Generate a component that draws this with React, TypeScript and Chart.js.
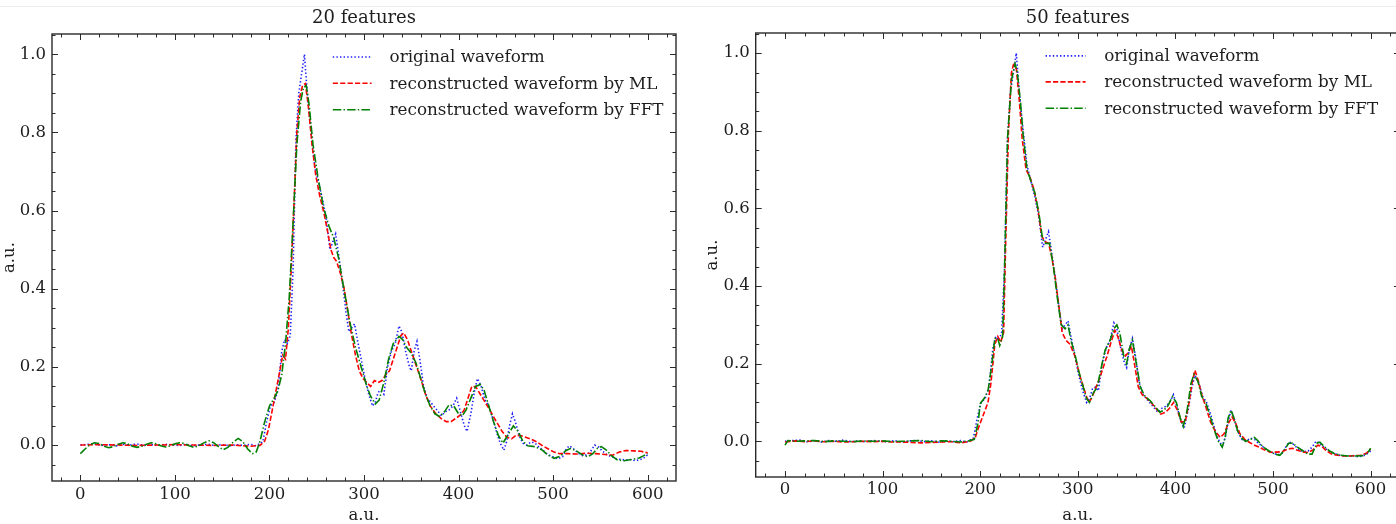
import React, { useEffect, useRef } from "react";
import { Chart, registerables } from "chart.js";

Chart.register(...registerables);

// ---------- data ----------
const xTickValues = [0, 100, 200, 300, 400, 500, 600];
const yTickValues = [0, 0.2, 0.4, 0.6, 0.8, 1.0];
const panelTitles = ["20 features", "50 features"];
const seriesLabels = [
  "original waveform",
  "reconstructed waveform by ML",
  "reconstructed waveform by FFT",
];
const axisLabel = "a.u.";

const originalWaveform: [number, number][] = [
  [0, 0.0], [8, 0.002], [15, 0.003], [22, -0.001], [30, 0.001], [38, -0.002], [45, 0.002], [52, 0.0],
  [60, 0.003], [68, -0.001], [75, 0.001], [82, -0.001], [90, 0.002], [98, 0.0], [105, -0.001], [112, 0.002],
  [120, -0.002], [128, 0.001], [135, 0.002], [142, -0.001], [150, 0.001], [158, -0.002], [165, 0.001],
  [172, -0.001], [180, 0.002], [186, -0.002], [190, 0.004], [193, 0.008], [197, 0.06], [201, 0.1],
  [205, 0.11], [209, 0.14], [213, 0.24], [216, 0.27], [219, 0.26], [222, 0.28], [225, 0.45], [228, 0.78],
  [231, 0.9], [234, 0.95], [237, 1.0], [240, 0.9], [244, 0.8], [248, 0.71], [252, 0.67], [256, 0.63],
  [260, 0.58], [264, 0.5], [267, 0.52], [270, 0.54], [273, 0.49], [277, 0.42], [281, 0.34], [284, 0.29],
  [287, 0.3], [290, 0.31], [293, 0.27], [297, 0.22], [301, 0.17], [305, 0.13], [309, 0.1], [312, 0.11],
  [315, 0.135], [318, 0.14], [321, 0.13], [325, 0.2], [329, 0.24], [333, 0.26], [337, 0.305], [340, 0.29],
  [344, 0.24], [348, 0.2], [350, 0.19], [353, 0.24], [356, 0.265], [359, 0.22], [363, 0.15], [367, 0.12],
  [372, 0.105], [377, 0.09], [382, 0.075], [386, 0.085], [390, 0.09], [394, 0.1], [398, 0.12], [402, 0.085],
  [406, 0.05], [409, 0.035], [413, 0.08], [417, 0.14], [420, 0.17], [424, 0.15], [428, 0.115], [432, 0.1],
  [436, 0.07], [440, 0.035], [444, 0.005], [448, -0.013], [451, 0.01], [454, 0.05], [457, 0.08], [460, 0.06],
  [464, 0.025], [468, 0.005], [472, 0.0], [477, 0.008], [481, 0.005], [485, -0.005], [490, -0.015],
  [495, -0.025], [500, -0.03], [505, -0.035], [510, -0.03], [514, -0.01], [517, -0.002], [521, -0.008],
  [526, -0.02], [531, -0.027], [536, -0.025], [540, -0.015], [544, 0.0], [548, -0.005], [552, -0.015],
  [557, -0.025], [562, -0.03], [567, -0.035], [572, -0.037], [577, -0.038], [582, -0.037], [587, -0.04],
  [591, -0.038], [595, -0.035], [600, -0.025],
];

const mlWaveform20: [number, number][] = [
  [0, 0.0], [20, 0.001], [40, 0.0], [60, -0.001], [80, 0.0], [100, 0.001], [120, 0.0], [140, -0.001],
  [160, 0.0], [180, -0.003], [190, -0.001], [195, 0.01], [199, 0.04], [203, 0.09], [207, 0.14], [211, 0.19],
  [214, 0.23], [217, 0.22], [220, 0.3], [223, 0.45], [226, 0.62], [229, 0.8], [232, 0.89], [235, 0.92],
  [238, 0.925], [241, 0.87], [245, 0.77], [249, 0.69], [253, 0.64], [258, 0.59], [262, 0.54], [265, 0.5],
  [268, 0.48], [271, 0.47], [275, 0.44], [279, 0.4], [283, 0.34], [287, 0.28], [291, 0.23], [295, 0.19],
  [299, 0.17], [303, 0.16], [307, 0.15], [311, 0.165], [315, 0.16], [319, 0.165], [323, 0.18], [327, 0.19],
  [331, 0.22], [335, 0.25], [339, 0.28], [342, 0.287], [346, 0.27], [350, 0.24], [355, 0.205], [360, 0.17],
  [365, 0.13], [370, 0.1], [376, 0.08], [382, 0.067], [387, 0.06], [392, 0.06], [397, 0.068], [402, 0.077],
  [406, 0.09], [410, 0.12], [414, 0.15], [418, 0.15], [423, 0.13], [428, 0.11], [433, 0.09], [440, 0.06],
  [446, 0.035], [451, 0.02], [456, 0.016], [461, 0.025], [466, 0.024], [471, 0.02], [477, 0.015],
  [483, 0.008], [489, -0.002], [495, -0.01], [501, -0.018], [507, -0.022], [515, -0.022], [525, -0.023],
  [535, -0.021], [545, -0.022], [555, -0.024], [563, -0.026], [570, -0.018], [577, -0.014], [585, -0.015],
  [593, -0.016], [600, -0.02],
];

const fftWaveform20: [number, number][] = [
  [0, -0.022], [5, -0.01], [10, 0.001], [15, 0.006], [20, 0.004], [25, -0.003], [30, -0.007], [35, -0.004],
  [40, 0.002], [45, 0.006], [50, 0.003], [55, -0.003], [60, -0.006], [65, -0.003], [70, 0.002], [75, 0.006],
  [80, 0.003], [85, -0.002], [90, -0.005], [95, -0.002], [100, 0.003], [105, 0.006], [110, 0.004],
  [115, -0.002], [120, -0.006], [125, -0.002], [130, 0.005], [136, 0.011], [141, 0.006], [146, -0.004],
  [151, -0.012], [156, -0.006], [161, 0.006], [167, 0.017], [172, 0.008], [177, -0.01], [182, -0.022],
  [186, -0.018], [190, 0.01], [195, 0.06], [200, 0.1], [205, 0.12], [209, 0.14], [213, 0.18], [217, 0.26],
  [221, 0.38], [225, 0.57], [229, 0.77], [233, 0.88], [236, 0.915], [239, 0.92], [242, 0.87], [246, 0.77],
  [251, 0.69], [257, 0.61], [263, 0.56], [268, 0.53], [273, 0.48], [278, 0.41], [285, 0.315], [291, 0.25],
  [297, 0.2], [303, 0.15], [307, 0.125], [312, 0.105], [316, 0.115], [321, 0.16], [326, 0.22], [331, 0.26],
  [337, 0.278], [341, 0.27], [345, 0.25], [350, 0.235], [355, 0.21], [360, 0.17], [365, 0.13], [370, 0.1],
  [375, 0.08], [380, 0.073], [385, 0.085], [390, 0.103], [395, 0.1], [400, 0.08], [404, 0.075], [408, 0.09],
  [413, 0.12], [418, 0.15], [423, 0.155], [427, 0.14], [432, 0.1], [437, 0.06], [442, 0.025], [447, 0.005],
  [452, 0.025], [458, 0.049], [463, 0.035], [468, 0.01], [473, -0.002], [481, -0.004], [488, -0.012],
  [494, -0.025], [501, -0.034], [508, -0.028], [513, -0.015], [518, -0.009], [524, -0.014], [531, -0.025],
  [537, -0.03], [542, -0.022], [547, -0.008], [551, -0.004], [556, -0.012], [562, -0.028], [568, -0.038],
  [575, -0.04], [583, -0.037], [591, -0.033], [596, -0.027], [600, -0.022],
];

const mlWaveform50: [number, number][] = [
  [0, -0.002], [10, 0.001], [20, -0.001], [30, 0.001], [40, -0.001], [50, 0.0], [60, -0.002], [70, -0.001],
  [80, 0.0], [90, -0.001], [100, 0.0], [110, -0.002], [120, -0.002], [130, -0.003], [140, -0.004],
  [150, -0.003], [160, -0.002], [170, -0.001], [180, -0.004], [190, 0.0], [195, 0.01], [198, 0.033],
  [202, 0.06], [205, 0.08], [208, 0.1], [211, 0.15], [215, 0.25], [218, 0.27], [221, 0.255], [224, 0.28],
  [226, 0.5], [229, 0.8], [232, 0.95], [234, 0.97], [237, 0.96], [240, 0.88], [243, 0.78], [247, 0.7],
  [251, 0.68], [255, 0.65], [259, 0.6], [263, 0.53], [266, 0.515], [270, 0.51], [273, 0.48], [277, 0.42],
  [281, 0.34], [284, 0.28], [288, 0.26], [292, 0.25], [297, 0.22], [302, 0.17], [307, 0.13], [311, 0.1],
  [314, 0.11], [318, 0.135], [322, 0.16], [326, 0.19], [330, 0.22], [334, 0.255], [338, 0.286], [341, 0.27],
  [345, 0.235], [349, 0.22], [352, 0.23], [355, 0.245], [358, 0.2], [362, 0.14], [366, 0.12], [371, 0.11],
  [375, 0.1], [380, 0.085], [385, 0.07], [390, 0.075], [394, 0.085], [398, 0.1], [402, 0.08], [406, 0.05],
  [410, 0.05], [414, 0.1], [417, 0.15], [420, 0.183], [423, 0.16], [427, 0.12], [431, 0.09], [436, 0.05],
  [441, 0.025], [446, 0.01], [450, 0.02], [454, 0.045], [458, 0.063], [462, 0.045], [466, 0.02],
  [471, 0.005], [476, -0.003], [481, -0.01], [486, -0.015], [491, -0.022], [497, -0.028], [503, -0.028],
  [509, -0.027], [515, -0.02], [520, -0.018], [525, -0.023], [531, -0.028], [536, -0.029], [541, -0.022],
  [546, -0.01], [550, -0.013], [555, -0.025], [560, -0.033], [566, -0.036], [572, -0.038], [578, -0.038],
  [584, -0.037], [590, -0.036], [596, -0.03], [600, -0.02],
];

const fftWaveform50: [number, number][] = [
  [0, -0.01], [3, 0.002], [10, 0.0], [20, 0.001], [30, 0.002], [40, -0.001], [50, 0.001], [60, 0.0],
  [70, -0.001], [80, 0.001], [90, 0.0], [100, 0.001], [110, -0.001], [120, 0.0], [130, 0.001], [140, 0.002],
  [150, -0.001], [160, 0.001], [170, 0.0], [180, -0.002], [188, 0.001], [194, 0.005], [198, 0.05],
  [200, 0.097], [204, 0.11], [208, 0.13], [212, 0.2], [215, 0.265], [218, 0.265], [220, 0.247], [223, 0.27],
  [225, 0.45], [228, 0.78], [232, 0.93], [235.7, 0.973], [238, 0.95], [241, 0.88], [244, 0.79], [248, 0.7],
  [252, 0.67], [256, 0.64], [260, 0.59], [264, 0.52], [267, 0.51], [271, 0.51], [275, 0.45], [279, 0.37],
  [283, 0.3], [287, 0.29], [290, 0.3], [293, 0.26], [297, 0.225], [301, 0.18], [305, 0.145], [309, 0.11],
  [312, 0.1], [316, 0.125], [320, 0.14], [324, 0.19], [328, 0.235], [333, 0.26], [337, 0.29], [340, 0.3],
  [343, 0.28], [347, 0.22], [350, 0.2], [353, 0.24], [356, 0.26], [360, 0.2], [364, 0.14], [369, 0.115],
  [374, 0.105], [379, 0.09], [384, 0.075], [388, 0.08], [392, 0.09], [397, 0.115], [401, 0.1], [405, 0.06],
  [408, 0.038], [412, 0.08], [416, 0.15], [419, 0.172], [423, 0.155], [427, 0.115], [431, 0.1], [435, 0.07],
  [439, 0.035], [444, 0.0], [448, -0.015], [451, 0.01], [454, 0.06], [457, 0.08], [460, 0.06], [464, 0.025],
  [468, 0.008], [472, 0.0], [477, 0.005], [481, 0.01], [485, 0.0], [490, -0.015], [496, -0.025],
  [502, -0.033], [507, -0.036], [511, -0.025], [516, -0.005], [520, -0.005], [525, -0.015], [531, -0.025],
  [536, -0.033], [540, -0.033], [545, -0.005], [548, -0.002], [553, -0.015], [558, -0.025], [563, -0.032],
  [570, -0.036], [577, -0.038], [585, -0.038], [592, -0.037], [597, -0.03], [600, -0.018],
];

// ---------- styling ----------
const FONT = "'DejaVu Serif', serif";
const TEXT = "#1e1e1e";
const FRAME = "#2a2a2a";
const X_MIN = -30, X_MAX = 630, Y_MIN = -0.092, Y_MAX = 1.052;
const X_MINOR = 20, Y_MINOR = 0.05;
const TICK_SIZE = 16.5;
const LEGEND_SIZE = 16.8;
const TITLE_SIZE = 18;

const lineStyles = [
  { color: "rgb(30,30,255)", dash: [1.4, 2.2], width: 1.6 },
  { color: "rgb(255,0,0)", dash: [5.2, 2.2], width: 1.6 },
  { color: "rgb(0,128,0)", dash: [8.5, 2.2, 1.4, 2.2], width: 1.6 },
];

const legendAnchor = { lineStart: 267, lineEnd: 308, textX: 327, rows: [0.993, 0.926, 0.858] };

const toPoints = (arr: [number, number][]) => arr.map(([x, y]) => ({ x, y }));

const frameTicksPlugin = {
  id: "frameTicks",
  afterDatasetsDraw(chart: any) {
    const { ctx, chartArea } = chart;
    const { left, right, top, bottom } = chartArea;
    const xs = chart.scales.x, ys = chart.scales.y;
    ctx.save();
    ctx.strokeStyle = FRAME;
    ctx.lineWidth = 1;
    const seg = (x1: number, y1: number, x2: number, y2: number) => {
      ctx.beginPath(); ctx.moveTo(x1, y1); ctx.lineTo(x2, y2); ctx.stroke();
    };
    const kx0 = Math.ceil(xs.min / X_MINOR), kx1 = Math.floor(xs.max / X_MINOR);
    for (let k = kx0; k <= kx1; k++) {
      const v = k * X_MINOR;
      const px = Math.round(xs.getPixelForValue(v)) + 0.5;
      const len = k % 5 === 0 ? 6 : 3.5;
      seg(px, bottom, px, bottom - len);
      seg(px, top, px, top + len);
    }
    const ky0 = Math.ceil(ys.min / Y_MINOR - 1e-9), ky1 = Math.floor(ys.max / Y_MINOR + 1e-9);
    for (let k = ky0; k <= ky1; k++) {
      const v = k * Y_MINOR;
      const py = Math.round(ys.getPixelForValue(v)) + 0.5;
      const len = k % 4 === 0 ? 6 : 3.5;
      seg(left, py, left + len, py);
      seg(right, py, right - len, py);
    }
    ctx.lineWidth = 1.4;
    ctx.strokeRect(left, top, right - left, bottom - top);
    ctx.restore();
  },
};

const legendPlugin = {
  id: "insideLegend",
  afterDraw(chart: any) {
    const { ctx } = chart;
    const xs = chart.scales.x, ys = chart.scales.y;
    const x1 = xs.getPixelForValue(legendAnchor.lineStart);
    const x2 = xs.getPixelForValue(legendAnchor.lineEnd);
    const tx = xs.getPixelForValue(legendAnchor.textX);
    ctx.save();
    chart.data.datasets.forEach((ds: any, i: number) => {
      const py = ys.getPixelForValue(legendAnchor.rows[i]);
      ctx.strokeStyle = ds.borderColor;
      ctx.lineWidth = ds.borderWidth;
      ctx.setLineDash(ds.borderDash);
      ctx.beginPath(); ctx.moveTo(x1, py); ctx.lineTo(x2, py); ctx.stroke();
      ctx.setLineDash([]);
      ctx.fillStyle = TEXT;
      ctx.font = `${LEGEND_SIZE}px ${FONT}`;
      ctx.textBaseline = "middle";
      ctx.textAlign = "left";
      ctx.fillText(ds.label, tx, py + 1);
    });
    ctx.restore();
  },
};

type Panel = {
  title: string; left: number; width: number; areaLeft: number; areaRight: number;
  areaTop: number; areaBottom: number; xPad: number; yPad: number; yTitlePad: number;
  ml: [number, number][]; fft: [number, number][];
};

const HEIGHT = 524;

const panels: Panel[] = [
  { title: panelTitles[0], left: 0, width: 698, areaLeft: 52, areaRight: 676, areaTop: 34, areaBottom: 481,
    xPad: 4, yPad: 6, yTitlePad: 0, ml: mlWaveform20, fft: fftWaveform20 },
  { title: panelTitles[1], left: 698, width: 706, areaLeft: 57.7, areaRight: 701.9, areaTop: 33, areaBottom: 477,
    xPad: 3, yPad: 6, yTitlePad: 5, ml: mlWaveform50, fft: fftWaveform50 },
];

function makeConfig(p: Panel): any {
  const series = [originalWaveform, p.ml, p.fft];
  const titleLine = TITLE_SIZE * 1.2;
  const titleTop = 18 - titleLine / 2;
  return {
    type: "line",
    data: {
      datasets: series.map((s, i) => ({
        label: seriesLabels[i],
        data: toPoints(s),
        borderColor: lineStyles[i].color,
        borderDash: lineStyles[i].dash,
        borderWidth: lineStyles[i].width,
        pointRadius: 0,
        fill: false,
        tension: 0,
        order: 3 - i,
      })),
    },
    options: {
      animation: false,
      responsive: false,
      maintainAspectRatio: false,
      events: [],
      layout: { padding: { left: 0, right: p.width - p.areaRight, top: 0, bottom: 0 } },
      plugins: {
        legend: { display: false },
        tooltip: { enabled: false },
        title: {
          display: true,
          text: p.title,
          fullSize: false,
          color: TEXT,
          font: { family: FONT, size: TITLE_SIZE, weight: "normal", lineHeight: 1.2 },
          padding: { top: titleTop, bottom: p.areaTop - titleLine - titleTop },
        },
      },
      scales: {
        x: {
          type: "linear",
          min: X_MIN,
          max: X_MAX,
          afterBuildTicks: (s: any) => { s.ticks = xTickValues.map((v) => ({ value: v })); },
          afterFit: (s: any) => { s.height = HEIGHT - p.areaBottom; },
          ticks: {
            color: TEXT, font: { family: FONT, size: TICK_SIZE }, padding: p.xPad,
            maxRotation: 0, autoSkip: false, callback: (v: any) => String(v),
          },
          grid: { display: false, drawTicks: false },
          border: { display: false },
          title: { display: true, text: axisLabel, color: TEXT, font: { family: FONT, size: TICK_SIZE }, padding: { top: 0, bottom: -2 } },
        },
        y: {
          type: "linear",
          min: Y_MIN,
          max: Y_MAX,
          afterBuildTicks: (s: any) => { s.ticks = yTickValues.map((v) => ({ value: v })); },
          afterFit: (s: any) => { s.width = p.areaLeft; },
          ticks: {
            color: TEXT, font: { family: FONT, size: TICK_SIZE }, padding: p.yPad,
            autoSkip: false, callback: (v: any) => Number(v).toFixed(1),
          },
          grid: { display: false, drawTicks: false },
          border: { display: false },
          title: { display: true, text: axisLabel, color: TEXT, font: { family: FONT, size: TICK_SIZE }, padding: { top: p.yTitlePad, bottom: 0 } },
        },
      },
    },
    plugins: [frameTicksPlugin, legendPlugin],
  };
}

function PanelChart({ panel }: { panel: Panel }) {
  const ref = useRef<HTMLCanvasElement | null>(null);
  useEffect(() => {
    if (!ref.current) return;
    const chart = new Chart(ref.current, makeConfig(panel));
    return () => chart.destroy();
  }, [panel]);
  return (
    <canvas
      ref={ref}
      width={panel.width}
      height={HEIGHT}
      style={{ position: "absolute", left: panel.left, top: 0, width: panel.width, height: HEIGHT }}
    />
  );
}

export default function App() {
  return (
    <div style={{ position: "fixed", left: 0, top: 0, width: 1396, height: HEIGHT, overflow: "hidden", background: "#fff" }}>
      <div style={{ position: "absolute", left: 0, top: 6, width: 1396, height: 1, background: "#ededed" }} />
      {panels.map((p) => (
        <PanelChart key={p.title} panel={p} />
      ))}
    </div>
  );
}
